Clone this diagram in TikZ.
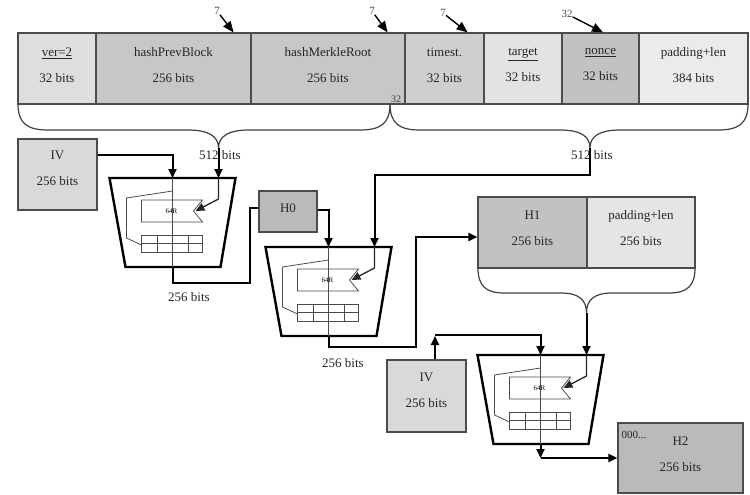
\documentclass[tikz,border=0pt]{standalone}
\usepackage{fontspec}
\setmainfont{Liberation Serif}
\usetikzlibrary{arrows.meta}
\tikzset{
  field/.style={draw=black!70, line width=1.2pt, inner sep=0pt, minimum height=71pt},
  txt/.style={font=\fontsize{13}{26}\selectfont, align=center, text=black!85, inner sep=0pt},
  conn/.style={line width=2pt, black},
  arr/.style={-{Triangle[length=9pt,width=8pt]}},
  bigarr/.style={-{Triangle[length=11pt,width=9pt]}},
  brace/.style={line width=1.2pt, black!75},
  trap/.style={line width=2.4pt, black},
  innerln/.style={line width=0.8pt, black!70},
  midln/.style={line width=1.3pt, black!85},
  small/.style={font=\fontsize{11}{12}\selectfont, text=black!70, inner sep=0pt},
}
\newcommand\compr[3]{%
  \draw[trap] ({#2-63},#3) -- ({#2+63},#3) -- ({#2+48},{#3+89}) -- ({#2-47},{#3+89}) -- cycle;
  \coordinate (#1top) at (#2,#3);
  \coordinate (#1bot) at (#2,{#3+89});
  \coordinate (#1in) at ({#2+46},#3);
  \coordinate (#1notch) at ({#2+23},{#3+33});
  \draw[innerln] ({#2-31},{#3+22}) -- ({#2+30},{#3+22}) -- ({#2+21},{#3+33}) -- ({#2+30},{#3+44}) -- ({#2-31},{#3+44}) -- cycle;
  \node[font=\fontsize{7}{8}\selectfont, inner sep=0pt] (#1r) at ({#2-1},{#3+33}) {64R};
  \draw[innerln] ({#2-31},{#3+57}) rectangle ({#2+30},{#3+74});
  \draw[innerln] ({#2-31},{#3+65.5}) -- ({#2+30},{#3+65.5});
  \draw[innerln] ({#2-15.5},{#3+57}) -- ({#2-15.5},{#3+74});
  \draw[innerln] ({#2+15.5},{#3+57}) -- ({#2+15.5},{#3+74});
  \draw[innerln] (#2,#3) -- (#2,{#3+89});
  \draw[innerln] (#2,{#3+13}) -- ({#2-46},{#3+20}) -- ({#2-46},{#3+60}) -- ({#2-31},{#3+67});
}
\begin{document}
\begin{tikzpicture}[x=1pt,y=-1pt]
\useasboundingbox[fill=white] (0,0) rectangle (750,495);

% top row
\node[field, fill=black!13, minimum width=78pt] (ver) at (57,68.5) {};
\node[field, fill=black!22, minimum width=155pt] (hpb) at (173.5,68.5) {};
\node[field, fill=black!22, minimum width=154pt] (hmr) at (328,68.5) {};
\node[field, fill=black!19, minimum width=79pt] (ts) at (444.5,68.5) {};
\node[field, fill=black!11, minimum width=78pt] (tg) at (523,68.5) {};
\node[field, fill=black!24, minimum width=77pt] (nc) at (600.5,68.5) {};
\node[field, fill=black!8, minimum width=109pt] (pd) at (693.5,68.5) {};
\node[txt] (verT) at ([yshift=3.5pt]ver.center) {\underline{ver=2}\\32 bits};
\node[txt] (hpbT) at ([yshift=3.5pt]hpb.center) {hashPrevBlock\\256 bits};
\node[txt] (hmrT) at ([yshift=3.5pt]hmr.center) {hashMerkleRoot\\256 bits};
\node[txt] (tsT) at ([yshift=3.5pt]ts.center) {timest.\\32 bits};
\node[txt] (tgT) at ([yshift=3.5pt]tg.center) {\underline{target}\\32 bits};
\node[txt] (ncT) at ([yshift=3.5pt]nc.center) {\underline{nonce}\\32 bits};
\node[txt] (pdT) at ([yshift=3.5pt]pd.center) {padding+len\\384 bits};

% labels above
\node[small] (q1) at (217,11) {7};
\node[small] (q2) at (372,11) {7};
\node[small] (q3) at (443,13) {7};
\node[small] (q4) at (567,14) {32};
\draw[line width=1.4pt, bigarr] (q1) -- ([xshift=-18pt]hpb.north east);
\draw[line width=1.4pt, bigarr] (q2) -- ([xshift=-18pt]hmr.north east);
\draw[line width=1.4pt, bigarr] (q3) -- ([xshift=-17pt]ts.north east);
\draw[line width=1.4pt, bigarr] (q4) -- ([xshift=2.5pt]nc.north);
\node[font=\fontsize{10}{11}\selectfont, text=black!75, inner sep=0pt] (j32) at (396,99) {32};

% braces
\coordinate (b1tip) at (218.5,148);
\coordinate (b2tip) at (590,148);
\coordinate (b3tip) at (586.5,313);
\draw[brace] (18,104) .. controls (18,124) and (28,130) .. (48,130) -- (188,130)
  .. controls (208,130) and (218.5,136) .. (b1tip)
  .. controls (218.5,136) and (229,130) .. (249,130) -- (360,130)
  .. controls (380,130) and (390,124) .. (390,104);
\draw[brace] (390,104) .. controls (390,124) and (400,130) .. (420,130) -- (560,130)
  .. controls (580,130) and (590,136) .. (b2tip)
  .. controls (590,136) and (600,130) .. (620,130) -- (718,130)
  .. controls (738,130) and (748,124) .. (748,104);

% other boxes
\node[field, fill=black!15, minimum width=79pt] (iv1) at (57.5,174.5) {};
\node[txt] (iv1T) at ([yshift=6pt]iv1.center) {IV\\256 bits};
\node[field, fill=black!27, minimum width=58pt, minimum height=41pt] (h0) at (288,211.5) {};
\node[txt] (h0T) at ([yshift=3pt]h0.center) {H0};
\node[field, fill=black!24, minimum width=109pt] (h1) at (532.5,232.5) {};
\node[field, fill=black!10, minimum width=108pt] (pd2) at (641,232.5) {};
\node[txt] (h1T) at ([yshift=4pt]h1.center) {H1\\256 bits};
\node[txt] (pd2T) at ([yshift=4pt]pd2.center) {padding+len\\256 bits};
\node[field, fill=black!15, minimum width=79pt, minimum height=72pt] (iv2) at (426.5,396) {};
\node[txt] (iv2T) at ([yshift=5.5pt]iv2.center) {IV\\256 bits};
\node[field, fill=black!27, minimum width=125pt, minimum height=70pt] (h2) at (680.5,458) {};
\node[txt] (h2T) at ([yshift=3.5pt]h2.center) {H2\\256 bits};
\node[font=\fontsize{11}{12}\selectfont, text=black!85, inner sep=0pt, anchor=north west] (h2z) at ([xshift=4pt,yshift=-9pt]h2.north west) {000...};

\draw[brace] (478,268) .. controls (478,286) and (486,293) .. (504,293) -- (561,293)
  .. controls (579,293) and (586.5,300) .. (b3tip)
  .. controls (586.5,300) and (594,293) .. (612,293) -- (669,293)
  .. controls (687,293) and (695,286) .. (695,268);

% compressors
\compr{c1}{172.5}{178}
\compr{c2}{328.5}{247}
\compr{c3}{540.5}{355}

% bit labels
\node[txt, font=\fontsize{13}{15}\selectfont] (l512a) at (220,155) {512 bits};
\node[txt, font=\fontsize{13}{15}\selectfont] (l512b) at (592,155) {512 bits};
\node[txt, font=\fontsize{13}{15}\selectfont] (l256a) at (189,297) {256 bits};
\node[txt, font=\fontsize{13}{15}\selectfont] (l256b) at (343,363) {256 bits};

% connectors
\draw[conn, arr] ([yshift=19.5pt]iv1.east) -| (c1top);
\draw[conn, arr] (b1tip) -- (c1in);
\draw[midln, arr] (c1in) -- ++(0,21) -- (c1notch);
\draw[conn] (c1bot) |- (250,283) |- ([yshift=3.5pt]h0.west);
\draw[conn, arr] ([yshift=1.5pt]h0.east) -| (c2top);
\draw[conn, arr] (b2tip) -- (590,175) -| (c2in);
\draw[midln, arr] (c2in) -- ++(0,21) -- (c2notch);
\draw[conn, arr] (c2bot) |- (416,347) |- ([yshift=-4.5pt]h1.west);
\coordinate (ivc) at (435,335);
\draw[conn, arr] ([xshift=8.5pt]iv2.north) -- ([yshift=-1pt]ivc);
\draw[conn, arr] (ivc) -| (c3top);
\draw[conn, arr] (b3tip) -- (c3in);
\draw[midln, arr] (c3in) -- ++(0,21) -- (c3notch);
\coordinate (c3out) at (540.5,458);
\draw[conn, arr] (c3bot) -- (c3out);
\draw[conn, arr] (c3out) -- (h2.west);
\end{tikzpicture}
\end{document}
